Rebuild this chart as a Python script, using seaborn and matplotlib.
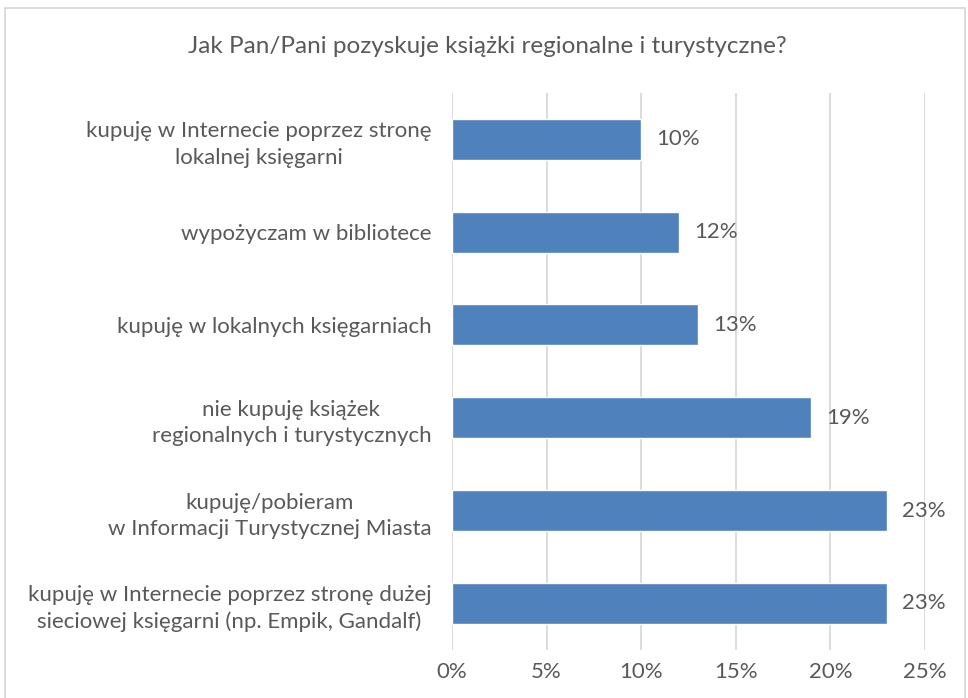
import matplotlib
matplotlib.use("Agg")
import matplotlib.pyplot as plt
import seaborn as sns
import pandas as pd
from matplotlib.patches import Rectangle

# data (top to bottom)
categories = [
    "kupuję w Internecie poprzez stronę\nlokalnej księgarni",
    "wypożyczam w bibliotece",
    "kupuję w lokalnych księgarniach",
    "nie kupuję książek\nregionalnych i turystycznych",
    "kupuję/pobieram\nw Informacji Turystycznej Miasta",
    "kupuję w Internecie poprzez stronę dużej\nsieciowej księgarni (np. Empik, Gandalf)",
]
values = [10, 12, 13, 19, 23, 23]
x_ticks = [0, 5, 10, 15, 20, 25]
title = "Jak Pan/Pani pozyskuje książki regionalne i turystyczne?"

df = pd.DataFrame({"kategoria": categories, "procent": values})

sns.set_theme(style="white")
plt.rcParams["font.family"] = ["Lato", "DejaVu Sans"]
text_color = "#595959"

fig = plt.figure(figsize=(9.68, 6.98), dpi=100)
ax = fig.add_axes([0.467, 0.069, 0.4885, 0.798])

sns.barplot(data=df, x="procent", y="kategoria", orient="h", color="#4F81BD",
            saturation=1, width=0.44, ax=ax, zorder=3)

for i, v in enumerate(values):
    ax.text(v + 0.8, i, f"{v}%", va="center", ha="left", fontsize=16, color=text_color)

ax.set_xlim(0, 25)
ax.set_xticks(x_ticks)
ax.set_xticklabels([f"{t}%" for t in x_ticks], fontsize=16, color=text_color)
ax.set_yticks(range(len(categories)), categories, fontsize=16, color=text_color,
              multialignment="center", linespacing=1.4)
ax.tick_params(axis="x", length=0, pad=9)
ax.tick_params(axis="y", length=0, pad=15)
ax.set_xlabel("")
ax.set_ylabel("")
ax.grid(axis="x", color="#D9D9D9", linewidth=1.3, zorder=0)
for s in ax.spines.values():
    s.set_visible(False)

fig.text(0.503, 0.933, title, ha="center", va="center", fontsize=17.5, color=text_color)

# chart border
fig.patches.append(Rectangle((5 / 968, -0.01), 960 / 968, 1 - 8 / 698 + 0.01,
                             transform=fig.transFigure, fill=False,
                             edgecolor="#D9D9D9", linewidth=1.3))

fig.savefig("out.png", dpi=100)
